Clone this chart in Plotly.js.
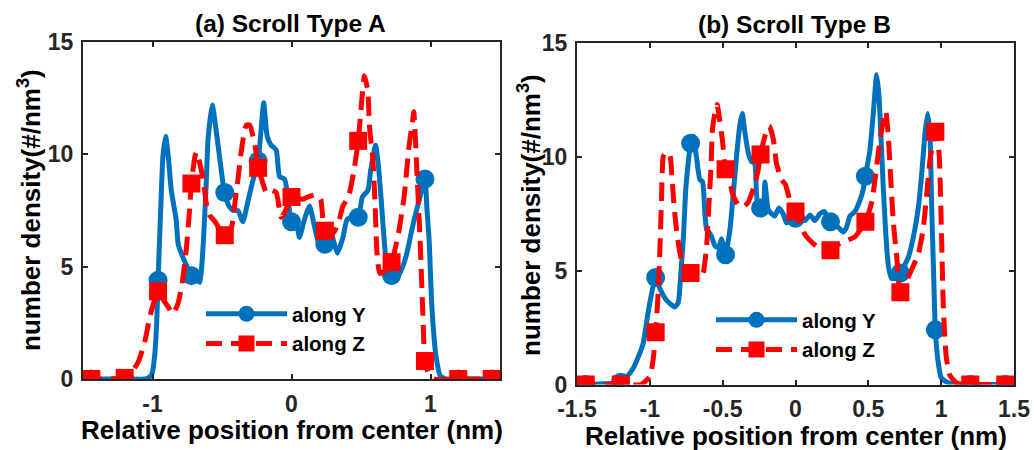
<!DOCTYPE html>
<html>
<head>
<meta charset="utf-8">
<script src="https://cdn.plot.ly/plotly-3.0.1.min.js"></script>
<style>html,body{margin:0;padding:0;background:#fff}#chart{width:1034px;height:450px}</style>
</head>
<body>
<div id="chart"></div>
<script>
// ---------- DATA ----------
const markerX = [-1.44,-1.2,-0.96,-0.72,-0.48,-0.24,0,0.24,0.48,0.72,0.96,1.2,1.44];

// Panel (a) Scroll Type A — along Y
const aY_x = [-1.5,-1.44,-1.2,-1.05,-1.03,-1.005,-0.985,-0.97,-0.96,-0.94,-0.925,-0.905,-0.885,-0.865,-0.83,-0.815,-0.78,-0.74,-0.72,-0.68,-0.66,-0.635,-0.615,-0.6,-0.57,-0.545,-0.52,-0.495,-0.48,-0.45,-0.42,-0.385,-0.35,-0.31,-0.275,-0.24,-0.22,-0.2,-0.175,-0.146,-0.11,-0.086,-0.05,-0.026,0,0.03,0.057,0.093,0.13,0.165,0.2,0.24,0.28,0.3,0.33,0.37,0.4,0.44,0.48,0.51,0.55,0.57,0.605,0.625,0.645,0.675,0.7,0.72,0.75,0.8,0.83,0.875,0.92,0.96,0.975,0.99,1.01,1.04,1.07,1.11,1.2,1.44,1.5];
const aY_y = [0,0,0,0,0.05,0.2,1.0,2.5,4.4,7.7,9.9,10.8,9.8,8.4,7.1,6.0,5.4,4.85,4.6,4.4,4.3,6.0,8.5,10.7,12.2,11.2,10.0,8.8,8.3,7.7,7.5,7.5,7.0,8.0,8.9,9.7,11.0,12.3,10.8,10.4,10.2,9.0,8.9,8.1,7.0,7.1,6.3,7.1,7.7,6.8,6.0,6.0,6.8,6.2,5.6,6.3,7.1,7.2,7.2,8.1,8.4,9.3,10.4,9.5,8.0,5.6,4.7,4.6,4.4,5.0,5.6,6.9,8.0,8.9,7.5,6.2,3.2,1.0,0.15,0,0,0,0];
const aY_m = [0,0,4.4,4.6,8.3,9.7,7.0,6.0,7.2,4.6,8.9,0,0];

// Panel (a) — along Z
const aZ_x = [-1.5,-1.44,-1.2,-1.16,-1.1,-1.054,-1.018,-0.96,-0.92,-0.886,-0.855,-0.82,-0.79,-0.755,-0.735,-0.72,-0.695,-0.683,-0.66,-0.636,-0.61,-0.59,-0.55,-0.53,-0.5,-0.48,-0.43,-0.41,-0.385,-0.36,-0.325,-0.3,-0.277,-0.255,-0.24,-0.22,-0.18,-0.146,-0.11,-0.074,-0.05,0,0.08,0.117,0.177,0.21,0.24,0.3,0.34,0.37,0.41,0.45,0.48,0.5,0.525,0.55,0.56,0.585,0.6,0.615,0.635,0.67,0.72,0.77,0.81,0.846,0.87,0.88,0.9,0.925,0.945,0.96,0.99,1.03,1.2,1.44,1.5];
const aZ_y = [0,0,0.05,0.2,0.8,1.7,2.8,3.9,3.5,3.2,2.9,3.3,4.1,5.9,7.4,8.7,9.9,10.1,9.6,8.9,7.7,7.3,7.0,6.8,6.3,6.4,6.8,7.7,8.9,10.2,11.3,11.3,10.8,10.1,9.4,9.0,8.3,8.4,8.3,7.2,7.4,8.1,8.0,8.1,8.2,8.0,6.6,6.5,7.0,7.7,8.1,9.3,10.6,12.0,13.5,12.8,11.3,9.8,8.0,5.6,4.7,4.8,5.2,6.5,8.1,10.4,11.4,11.9,9.5,6.2,2.9,0.8,0.2,0,0,0,0];
const aZ_m = [0,0.05,3.9,8.7,6.4,9.4,8.1,6.6,10.6,5.2,0.8,0,0];

// Panel (b) Scroll Type B — along Y
const bY_x = [-1.5,-1.44,-1.2,-1.17,-1.115,-1.08,-1.046,-1.023,-1.0,-0.96,-0.93,-0.886,-0.83,-0.805,-0.787,-0.77,-0.753,-0.72,-0.703,-0.68,-0.657,-0.638,-0.622,-0.61,-0.595,-0.577,-0.554,-0.53,-0.508,-0.49,-0.48,-0.45,-0.428,-0.405,-0.382,-0.366,-0.348,-0.325,-0.302,-0.28,-0.268,-0.256,-0.24,-0.222,-0.21,-0.2,-0.188,-0.165,-0.142,-0.114,-0.085,-0.062,-0.039,0,0.02,0.065,0.1,0.133,0.167,0.2,0.225,0.24,0.294,0.328,0.35,0.374,0.408,0.443,0.466,0.48,0.511,0.534,0.557,0.573,0.587,0.603,0.62,0.638,0.66,0.683,0.72,0.775,0.81,0.844,0.867,0.89,0.908,0.924,0.935,0.948,0.96,0.978,1.0,1.04,1.1,1.2,1.44,1.5];
const bY_y = [0,0,0.1,0.25,0.7,1.2,1.8,2.7,3.6,4.7,4.2,3.7,3.4,3.6,4.9,6.4,8.6,10.6,10.9,10.0,9.0,8.9,7.5,6.8,6.7,6.5,6.1,6.0,6.4,6.0,5.7,6.8,8.3,10.0,11.4,11.9,11.1,10.2,9.8,9.7,8.4,7.8,7.75,7.8,8.9,8.3,7.7,7.5,7.4,7.75,7.5,7.1,7.2,7.3,7.3,7.2,7.45,7.2,7.5,7.6,7.2,7.15,6.9,6.7,6.9,7.4,7.6,8.1,8.6,9.15,10.3,11.9,13.6,12.7,10.8,8.6,6.6,5.2,4.65,4.65,4.9,5.6,6.5,7.8,9.3,11.1,11.9,10.8,7.8,4.9,2.4,1.05,0.3,0.1,0,0,0,0];
const bY_m = [0,0.1,4.7,10.6,5.7,7.75,7.3,7.15,9.15,4.9,2.4,0,0];

// Panel (b) — along Z
const bZ_x = [-1.5,-1.44,-1.2,-1.06,-1.0,-0.977,-0.96,-0.943,-0.93,-0.92,-0.908,-0.89,-0.863,-0.847,-0.833,-0.817,-0.794,-0.77,-0.72,-0.668,-0.634,-0.61,-0.595,-0.58,-0.57,-0.554,-0.538,-0.52,-0.503,-0.48,-0.45,-0.428,-0.394,-0.36,-0.325,-0.29,-0.26,-0.24,-0.21,-0.18,-0.153,-0.13,-0.096,-0.07,-0.039,0,0.064,0.12,0.18,0.24,0.305,0.362,0.41,0.48,0.523,0.546,0.569,0.596,0.62,0.638,0.654,0.672,0.695,0.72,0.787,0.844,0.878,0.9,0.924,0.96,0.985,1.0,1.015,1.035,1.06,1.1,1.15,1.2,1.44,1.5];
const bZ_y = [0,0,0,0,0.35,1.1,2.3,4.0,6.1,8.1,10.0,10.2,10.1,9.0,7.8,6.8,5.8,5.2,4.9,4.6,4.9,6.1,7.8,9.6,11.2,11.9,12.3,11.6,10.8,9.45,8.85,8.3,7.9,7.8,8.0,8.6,9.3,10.1,10.9,11.35,10.8,9.7,9.0,8.8,8.1,7.6,6.6,6.2,5.9,5.9,6.2,6.35,6.5,7.15,8.0,9.0,10.2,11.35,12.0,10.8,9.0,7.1,5.6,4.05,4.9,5.75,6.9,8.3,9.9,11.1,10.2,7.2,3.4,1.2,0.4,0.1,0,0,0,0];
const bZ_m = [0,0,2.3,4.9,9.45,10.1,7.6,5.9,7.15,4.05,11.1,0,0];

const seriesNames = ['along Y','along Z'];
const panelTitles = ['(a) Scroll Type A','(b) Scroll Type B'];
const xTitle = 'Relative position from center (nm)';
const yTitle = 'number density(#/nm<sup>3</sup>)';
const yTickVals = [0,5,10,15];
const yTickText = ['0','5','10','15'];
const xTickValsA = [-1,0,1];
const xTickTextA = ['-1','0','1'];
const xTickValsB = [-1.5,-1,-0.5,0,0.5,1,1.5];
const xTickTextB = ['-1.5','-1','-0.5','0','0.5','1','1.5'];

// ---------- STYLE ----------
const W = 1034, H = 450;
const BLUE = '#0072BD', RED = '#FF0000', AX = '#262626';
const FONT = 'Liberation Sans, Arial, Helvetica, sans-serif';
const LW = 5, DASH = '19px,9px';
const CIRC = 19, SQ = 18;

function lineTrace(x, y, color, dash, xa, ya) {
  return {x, y, xaxis: xa, yaxis: ya, mode: 'lines', showlegend: false, hoverinfo: 'skip',
    line: {color, width: LW, dash, shape: 'spline', smoothing: 0.5}};
}
function markTrace(x, y, color, symbol, size, xa, ya) {
  return {x, y, xaxis: xa, yaxis: ya, mode: 'markers', showlegend: false, hoverinfo: 'skip',
    marker: {color, symbol, size, line: {width: 0}}};
}
function legendTrace(name, color, dash, symbol, legend, xa, ya) {
  return {x: [null], y: [null], xaxis: xa, yaxis: ya, mode: 'lines+markers', name, legend,
    line: {color, width: LW, dash}, marker: {color, symbol, size: 16}};
}

const data = [
  lineTrace(aY_x, aY_y, BLUE, 'solid', 'x', 'y'),
  markTrace(markerX, aY_m, BLUE, 'circle', CIRC, 'x', 'y'),
  lineTrace(aZ_x, aZ_y, RED, DASH, 'x', 'y'),
  markTrace(markerX, aZ_m, RED, 'square', SQ, 'x', 'y'),
  legendTrace(seriesNames[0], BLUE, 'solid', 'circle', 'legend', 'x', 'y'),
  legendTrace(seriesNames[1], RED, '16px,9px', 'square', 'legend', 'x', 'y'),

  lineTrace(bY_x, bY_y, BLUE, 'solid', 'x2', 'y2'),
  markTrace(markerX, bY_m, BLUE, 'circle', CIRC, 'x2', 'y2'),
  lineTrace(bZ_x, bZ_y, RED, DASH, 'x2', 'y2'),
  markTrace(markerX, bZ_m, RED, 'square', SQ, 'x2', 'y2'),
  legendTrace(seriesNames[0], BLUE, 'solid', 'circle', 'legend2', 'x2', 'y2'),
  legendTrace(seriesNames[1], RED, '16px,9px', 'square', 'legend2', 'x2', 'y2')
];

const tickFont = {family: FONT, size: 23, color: AX, weight: 'bold'};
function xAxis(domain, anchor, tv, tt) {
  return {domain, anchor, range: [-1.5, 1.5], tickvals: tv, ticktext: tt,
    showline: true, linecolor: AX, linewidth: 2, mirror: 'ticks',
    ticks: 'inside', ticklen: 5, tickwidth: 2, tickcolor: AX,
    showgrid: false, zeroline: false, tickfont: tickFont, ticklabelstandoff: 3, fixedrange: true};
}
function yAxis(domain, anchor) {
  return {domain, anchor, range: [0, 15], tickvals: yTickVals, ticktext: yTickText,
    showline: true, linecolor: AX, linewidth: 2, mirror: 'ticks',
    ticks: 'inside', ticklen: 5, tickwidth: 2, tickcolor: AX,
    showgrid: false, zeroline: false, tickfont: tickFont, ticklabelstandoff: 3, fixedrange: true};
}
const px = v => v / W, py = v => 1 - v / H;

const legendStyle = (xp, yp) => ({x: px(xp), y: py(yp), xanchor: 'left', yanchor: 'top',
  bgcolor: 'rgba(0,0,0,0)', borderwidth: 0, itemwidth: 81, tracegroupgap: 0,
  font: {family: FONT, size: 20.5, color: '#000', weight: 'bold'}, itemclick: false, itemdoubleclick: false});

const ann = (text, x, y, size, angle) => ({text, x: px(x), y: py(y), xref: 'paper', yref: 'paper',
  xanchor: 'center', yanchor: 'middle', showarrow: false, textangle: angle || 0,
  font: {family: FONT, size, color: '#000', weight: 'bold'}});

const layout = {
  width: W, height: H, margin: {l: 0, r: 0, t: 0, b: 0},
  paper_bgcolor: '#fff', plot_bgcolor: '#fff',
  font: {family: FONT, weight: 'bold'},
  xaxis: xAxis([83 / W, 500 / W], 'y', xTickValsA, xTickTextA),
  yaxis: yAxis([1 - 379 / H, 1 - 42 / H], 'x'),
  xaxis2: xAxis([577 / W, 1014 / W], 'y2', xTickValsB, xTickTextB),
  yaxis2: yAxis([1 - 384.5 / H, 1 - 43 / H], 'x2'),
  legend: legendStyle(201, 294),
  legend2: legendStyle(711, 300),
  annotations: [
    ann(panelTitles[0], 290, 23, 24.5),
    ann(panelTitles[1], 794, 24, 24.5),
    ann(xTitle, 292, 430, 26),
    ann(xTitle, 796, 436, 26),
    ann(yTitle, 29, 210, 26, -90),
    ann(yTitle, 529, 215, 26, -90)
  ],
  showlegend: true
};

Plotly.newPlot('chart', data, layout, {displayModeBar: false, staticPlot: true});
</script>
</body>
</html>
